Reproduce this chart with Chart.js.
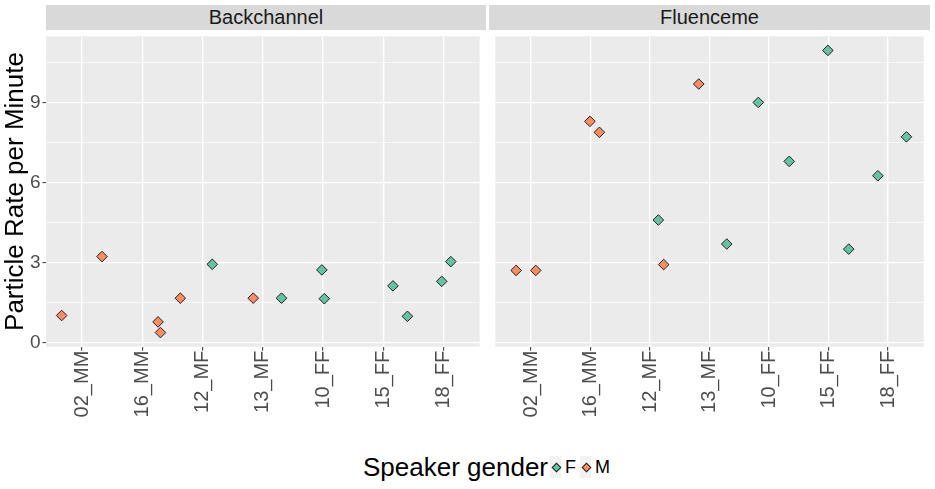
<!DOCTYPE html>
<html>
<head>
<meta charset="utf-8">
<script src="https://cdn.jsdelivr.net/npm/chart.js@4"></script>
<style>
  html, body { margin:0; padding:0; background:#fff; }
  body { width:935px; height:489px; overflow:hidden; position:relative; font-family:"Liberation Sans", Arial, Helvetica, sans-serif; }
  .strip { position:absolute; top:5px; height:25px; background:#D9D9D9; color:#1A1A1A; font-size:20px; line-height:25px; text-align:center; }
  canvas { position:absolute; }
  #legend { position:absolute; left:363px; top:452px; height:30px; display:flex; align-items:center; white-space:nowrap; }
  #legend .title { font-size:26px; color:#000; }
  #legend .key { display:inline-block; width:11px; height:22px; background:#F2F2F2; position:relative; margin-left:2px; }
  #legend .dia { position:absolute; left:2.5px; top:8px; width:5px; height:5px; transform:rotate(45deg); border:1px solid #222; }
  #legend .lab { font-size:18px; color:#000; margin-left:4px; margin-right:2px; }
</style>
</head>
<body>
<div class="strip" id="stripL" style="left:46px;width:440px;"></div>
<div class="strip" id="stripR" style="left:489px;width:441px;"></div>
<canvas id="cL" width="486" height="420" style="left:0;top:30px;"></canvas>
<canvas id="cR" width="441" height="420" style="left:489px;top:30px;"></canvas>
<div id="legend">
  <span class="title">Speaker gender</span>
  <span class="key"><span class="dia" style="background:#66C2A5"></span></span><span class="lab">F</span>
  <span class="key"><span class="dia" style="background:#FC8D62"></span></span><span class="lab">M</span>
</div>
<script>
// ---------- data ----------
const PANELS = ['Backchannel', 'Fluenceme'];
const CATEGORIES = ['02_MM', '16_MM', '12_MF', '13_MF', '10_FF', '15_FF', '18_FF'];
const Y_TICKS = [0, 3, 6, 9];
const Y_MINOR = [1.5, 4.5, 7.5, 10.5];
const Y_RANGE = [-0.14, 11.5];
const X_RANGE = [-0.6, 6.6];
const GENDERS = ['F', 'M'];

// jittered positions (in category units) and rates
const backchannelM_x = [-0.34, 0.33, 1.26, 1.30, 1.63, 2.84];
const backchannelM_y = [1.03, 3.24, 0.79, 0.39, 1.68, 1.68];
const backchannelF_x = [2.16, 3.31, 3.98, 4.02, 5.16, 5.40, 5.97, 6.12];
const backchannelF_y = [2.95, 1.68, 2.74, 1.66, 2.14, 1.00, 2.31, 3.05];

const fluencemeM_x = [-0.25, 0.08, 0.99, 1.15, 2.23, 2.82];
const fluencemeM_y = [2.72, 2.72, 8.31, 7.90, 2.94, 9.71];
const fluencemeF_x = [2.14, 3.29, 3.82, 4.34, 4.99, 5.34, 5.83, 6.31];
const fluencemeF_y = [4.61, 3.71, 9.02, 6.81, 10.97, 3.52, 6.27, 7.73];

// ---------- styling ----------
const FONT = '"Liberation Sans", Arial, Helvetica, sans-serif';
const COLORS = { F: '#66C2A5', M: '#FC8D62' };
const PANEL_H = 316.7;
const CANVAS_H = 420;

document.getElementById('stripL').textContent = PANELS[0];
document.getElementById('stripR').textContent = PANELS[1];

const panelBg = {
  id: 'panelBg',
  beforeDraw(chart) {
    const { ctx, chartArea: a } = chart;
    ctx.save();
    ctx.fillStyle = '#EBEBEB';
    ctx.fillRect(a.left, a.top, a.right - a.left, a.bottom - a.top);
    ctx.restore();
  }
};

function pts(xs, ys) { return xs.map((x, i) => ({ x: x, y: ys[i] })); }

function makePanel(id, mx, my, fx, fy, showY) {
  const isMajor = v => Y_TICKS.includes(v);
  return new Chart(document.getElementById(id), {
    type: 'scatter',
    data: {
      datasets: [
        { label: GENDERS[1], data: pts(mx, my), backgroundColor: COLORS.M },
        { label: GENDERS[0], data: pts(fx, fy), backgroundColor: COLORS.F }
      ].map(d => Object.assign(d, {
        pointStyle: 'rectRot', pointRadius: 5.3, pointHoverRadius: 5.3,
        borderColor: '#222', borderWidth: 1
      }))
    },
    options: {
      responsive: false,
      animation: false,
      layout: { padding: 0 },
      plugins: { legend: { display: false }, tooltip: { enabled: false } },
      scales: {
        x: {
          type: 'linear', min: X_RANGE[0], max: X_RANGE[1],
          afterBuildTicks: s => { s.ticks = CATEGORIES.map((c, i) => ({ value: i })); },
          ticks: {
            autoSkip: false, minRotation: 90, maxRotation: 90, padding: 0,
            color: '#4D4D4D', font: { family: FONT, size: 20 },
            callback: v => CATEGORIES[v]
          },
          grid: { color: '#FFFFFF', lineWidth: 1.3, tickColor: '#333333', tickLength: 4, tickWidth: 1 },
          border: { display: false },
          afterFit: s => { s.height = CANVAS_H - PANEL_H; s.paddingLeft = 0; s.paddingRight = 0; }
        },
        y: {
          type: 'linear', min: Y_RANGE[0], max: Y_RANGE[1],
          afterBuildTicks: s => { s.ticks = Y_TICKS.concat(Y_MINOR).sort((a, b) => a - b).map(v => ({ value: v })); },
          ticks: {
            display: showY, padding: 2,
            color: '#4D4D4D', font: { family: FONT, size: 19 },
            callback: v => isMajor(v) ? String(v) : ''
          },
          grid: {
            color: '#FFFFFF',
            lineWidth: c => isMajor(c.tick.value) ? 1.3 : 0.65,
            drawTicks: showY,
            tickColor: c => isMajor(c.tick.value) ? '#333333' : 'rgba(0,0,0,0)',
            tickLength: 3.5, tickWidth: 1
          },
          border: { display: false },
          title: {
            display: showY, text: 'Particle Rate per Minute', color: '#000',
            font: { family: FONT, size: 26 }, padding: { top: 0, bottom: 0 }
          },
          afterFit: s => { s.width = showY ? 46 : 0; s.paddingTop = 0; s.paddingBottom = 0; }
        }
      }
    },
    plugins: [panelBg]
  });
}

makePanel('cL', backchannelM_x, backchannelM_y, backchannelF_x, backchannelF_y, true);
makePanel('cR', fluencemeM_x, fluencemeM_y, fluencemeF_x, fluencemeF_y, false);
</script>
</body>
</html>
